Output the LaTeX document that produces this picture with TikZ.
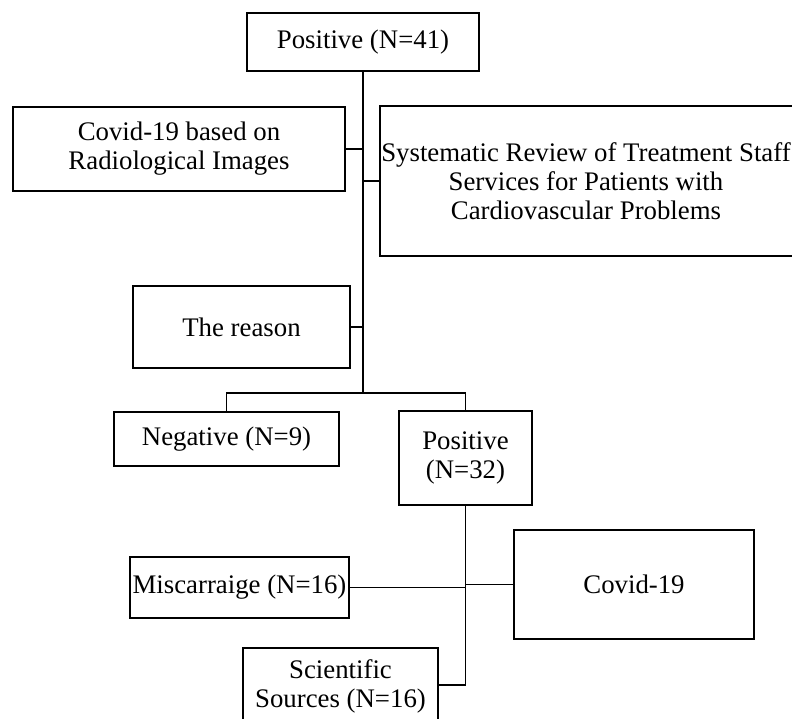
\documentclass[tikz,border=0pt]{standalone}
\usepackage{fontspec}
\setmainfont{Liberation Serif}
\begin{document}
\begin{tikzpicture}[x=1pt,y=-1pt,
  box/.style={draw,line width=1.7pt,inner sep=0pt,align=center,
    font=\fontsize{26.8}{29}\selectfont},
  link/.style={line width=1.9pt}]
\useasboundingbox (0,0) rectangle (792,718);
\node[box,minimum width=232pt,minimum height=58pt] (top) at (363,42) {Positive (N=41)};
\node[box,minimum width=332pt,minimum height=84pt] (radio) at (179,149) {Covid-19 based on\\Radiological Images};
\node[box,minimum width=417pt,minimum height=150pt] (syst) at (588.5,181) {};
\node[font=\fontsize{26.8}{29}\selectfont,align=center,inner sep=0pt] (systtext) at (586,181) {Systematic Review of Treatment Staff\\Services for Patients with\\Cardiovascular Problems};
\node[box,minimum width=217pt,minimum height=82pt] (reason) at (241.5,327) {The reason};
\node[box,minimum width=225pt,minimum height=54pt] (neg) at (226.5,439) {Negative (N=9)};
\node[box,minimum width=133pt,minimum height=94pt] (pos) at (465.5,458) {Positive\\(N=32)};
\node[box,minimum width=240pt,minimum height=109pt] (covid) at (634,584.5) {Covid-19};
\node[box,minimum width=219pt,minimum height=61pt] (misc) at (239.5,587.5) {Miscarraige (N=16)};
\node[box,minimum width=195pt,minimum height=76pt] (sci) at (340.5,686) {Scientific\\Sources (N=16)};
\coordinate (j1) at (363,393);
\coordinate (j2) at (465.5,685);
\draw[link] (top.south) -- (j1);
\draw[link] (radio.east) -- (radio.east -| j1);
\draw[link] (syst.west) -- (syst.west -| j1);
\draw[link] (reason.east) -- (reason.east -| j1);
\draw[link] (neg.north) -- (neg.north |- j1) -- (pos.north |- j1) -- (pos.north);
\draw[link] (pos.south) -- (j2) -- (sci.east |- j2);
\draw[link] (covid.west) -- (covid.west -| j2);
\draw[link] (misc.east) -- (misc.east -| j2);
\end{tikzpicture}
\end{document}
